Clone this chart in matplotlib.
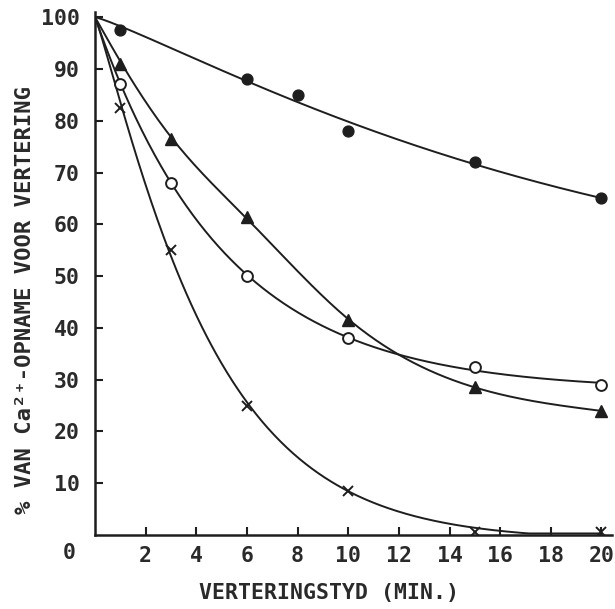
import numpy as np
import matplotlib
matplotlib.use("Agg")
import matplotlib.pyplot as plt

# ---- data ----
start_time = 0
start_value = 100

t_filled = [1, 6, 8, 10, 15, 20]
filled_circles = [97.5, 88, 85, 78, 72, 65]

t_common = [1, 3, 6, 10, 15, 20]
triangles = [91, 76.5, 61.5, 41.5, 28.5, 24]
open_circles = [87, 68, 50, 38, 32.5, 29]
crosses = [82.5, 55, 25, 8.5, 0.5, 0.5]

x_ticks = [2, 4, 6, 8, 10, 12, 14, 16, 18, 20]
y_ticks = [10, 20, 30, 40, 50, 60, 70, 80, 90, 100]
x_label = "VERTERINGSTYD (MIN.)"
y_label = "% VAN Ca²⁺-OPNAME VOOR VERTERING"

INK = "#1e1e1e"
TXT = "#2a2a2a"
FONT = ["DejaVu Sans Mono", "DejaVu Sans"]
plt.rcParams["font.family"] = FONT


def fit_curve(x, y):
    """Least-squares fit of y = c + (y0 - c) * exp(-k x^p), starting at (0, y0)."""
    x = np.asarray(x, float)
    y = np.asarray(y, float)
    y0 = start_value
    best = None
    for p in np.linspace(0.5, 2.5, 81):
        xp = x ** p
        for k in np.logspace(-3, 0.5, 250):
            f = np.exp(-k * xp)
            g = 1 - f
            c = np.sum((y - y0 * f) * g) / np.sum(g * g)
            sse = np.sum((y0 * f + c * g - y) ** 2)
            if best is None or sse < best[0]:
                best = (sse, p, k, c)
    _, p, k, c = best
    return lambda xx: c + (y0 - c) * np.exp(-k * np.asarray(xx) ** p)


def smooth_curve(x, y, lam=600.0):
    """Penalised least-squares smoother (second differences) through the points."""
    x = np.asarray([start_time] + list(x), float)
    y = np.asarray([start_value] + list(y), float)
    grid = np.linspace(x.min(), x.max(), 201)
    idx = np.searchsorted(grid, x - 1e-9)
    W = np.zeros(len(grid))
    z = np.zeros(len(grid))
    W[idx] = 1.0
    W[idx[0]] = 1e4  # the common starting point
    z[idx] = y
    D = np.diff(np.eye(len(grid)), 2, axis=0)
    g = np.linalg.solve(np.diag(W) + lam * D.T @ D, W * z)
    return lambda xx: np.interp(xx, grid, g)


fig = plt.figure(figsize=(6.15, 6.09), dpi=100)
ax = fig.add_axes([0.1545, 0.1215, 0.84, 0.858])

xs = np.linspace(0, 20, 400)
series = [
    (t_filled, filled_circles, fit_curve, dict(marker="o", mfc=INK, mec=INK, ms=7.8)),
    (t_common, triangles, smooth_curve, dict(marker="^", mfc=INK, mec=INK, ms=8.5)),
    (t_common, open_circles, fit_curve, dict(marker="o", mfc="white", mec=INK, ms=7.8, mew=1.4)),
    (t_common, crosses, fit_curve, dict(marker="x", mfc=INK, mec=INK, ms=7.5, mew=1.4)),
]
for tx, vals, method, style in series:
    f = method(tx, vals)
    ys = np.clip(f(xs), 0.3, None)
    ax.plot(xs, ys, color=INK, lw=1.4, zorder=2)
    ax.plot(tx, vals, linestyle="none", zorder=3, **style)

ax.set_xlim(0, 20.4)
ax.set_ylim(0, 100.9)
for s in ["top", "right"]:
    ax.spines[s].set_visible(False)
for s in ["left", "bottom"]:
    ax.spines[s].set_linewidth(1.8)
    ax.spines[s].set_color(INK)

ax.set_xticks(x_ticks)
ax.set_yticks(y_ticks)
ax.tick_params(direction="in", length=6, width=1.5, color=INK,
               labelsize=15.5, labelcolor=TXT)
ax.tick_params(axis="x", pad=8)
ax.tick_params(axis="y", pad=11)
for lab in ax.get_xticklabels() + ax.get_yticklabels():
    lab.set_fontweight("bold")

ax.text(-0.05, -0.035, "0", transform=ax.transAxes, ha="center", va="center",
        fontsize=15.5, fontweight="bold", color=TXT)

ax.set_xlabel(x_label, fontsize=15.5, fontweight="bold", color=TXT)
ax.xaxis.set_label_coords(0.452, -0.092)
ax.set_ylabel(y_label, fontsize=16, fontweight="bold", color=TXT)
ax.yaxis.set_label_coords(-0.117, 0.45)

fig.savefig("out.png", dpi=100)
